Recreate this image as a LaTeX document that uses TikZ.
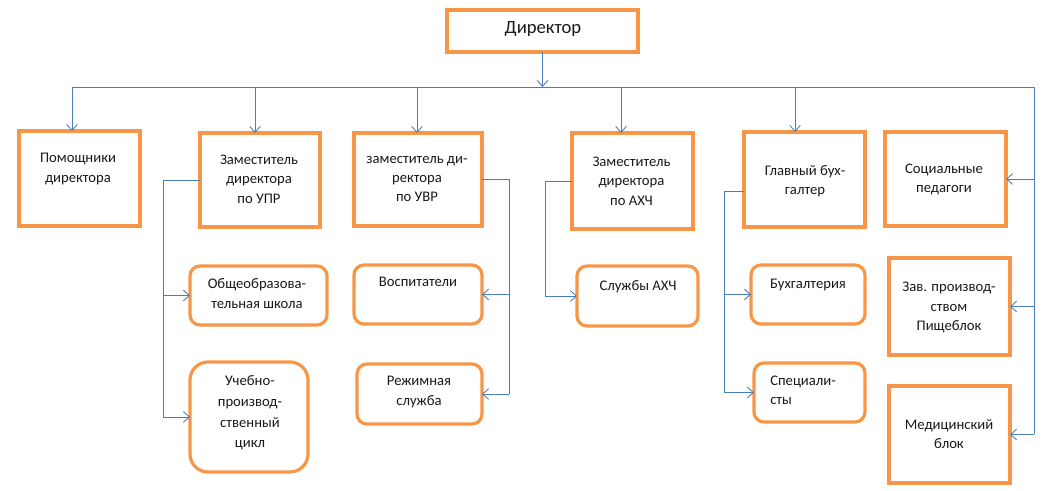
\documentclass[tikz,border=0pt]{standalone}
\usepackage{fontspec}
\setmainfont{Carlito}
\usetikzlibrary{arrows.meta}
\definecolor{boxorange}{HTML}{F79646}
\definecolor{connblue}{HTML}{4A7EBB}
\tikzset{
  sqbox/.style={draw=boxorange, line width=2.4pt, rectangle, inner sep=0pt, outer sep=0pt},
  rbox/.style={sqbox, rounded corners=7.5pt},
  wh/.style 2 args={minimum width=#1*0.75pt, minimum height=#2*0.75pt},
  lbl/.style={font=\fontsize{11}{14.5}\selectfont, align=center, inner sep=0pt, text=black!90},
  conn/.style={draw=connblue, line width=0.65pt},
  arr/.style={conn, -{Straight Barb[length=4.5pt,width=8pt]}}
}
\begin{document}
\begin{tikzpicture}[x=0.75pt,y=-0.75pt]
\useasboundingbox (0,0) rectangle (1053,491);
% boxes
\node[sqbox, wh={191}{42}] (dir) at (542.5,31) {};
\node[sqbox, wh={121}{95}] (pom) at (79.5,178.5) {};
\node[sqbox, wh={120}{94}] (upr) at (260,180) {};
\node[sqbox, wh={128}{93}] (uvr) at (418,179.5) {};
\node[sqbox, wh={121}{96}] (ahch) at (632.5,181) {};
\node[sqbox, wh={121}{95}] (gb) at (804.5,179.5) {};
\node[sqbox, wh={121}{94}] (soc) at (945.5,179) {};
\node[rbox, wh={137}{59}] (obsh) at (258.5,295.5) {};
\node[rbox, wh={128}{59}] (vosp) at (418,294.5) {};
\node[rbox, rounded corners=13.5pt, wh={118}{110}] (ucheb) at (249,417) {};
\node[rbox, wh={125}{60}] (rezh) at (419.5,394) {};
\node[rbox, wh={121}{60}] (sluzh) at (637.5,296) {};
\node[rbox, wh={114}{59}] (buhg) at (808,294.5) {};
\node[rbox, wh={111}{59}] (spec) at (809.5,392.5) {};
\node[sqbox, wh={121}{97}] (zav) at (949.5,306.5) {};
\node[sqbox, wh={121}{97}] (med) at (949.5,434.5) {};
% texts
\node[lbl, font=\fontsize{14}{17}\selectfont] (tdir) at (543,29) {Директор};
\node[lbl] (tpom) at (78,169) {Помощники\\директора};
\node[lbl] (tupr) at (259,179) {Заместитель\\директора\\по УПР};
\node[lbl] (tuvr) at (417,179) {заместитель ди-\\ректора\\по УВР};
\node[lbl] (tahch) at (631.5,181) {Заместитель\\директора\\по АХЧ};
\node[lbl] (tgb) at (805,181) {Главный бух-\\галтер};
\node[lbl] (tsoc) at (944,179.5) {Социальные\\педагоги};
\node[lbl] (tobsh) at (257,293.5) {Общеобразова-\\тельная школа};
\node[lbl] (tvosp) at (418,282) {Воспитатели};
\node[lbl, font=\fontsize{11}{15.5}\selectfont] (tucheb) at (250,413) {Учебно-\\производ-\\ственный\\цикл};
\node[lbl] (trezh) at (419,392) {Режимная\\служба};
\node[lbl] (tsluzh) at (638,287) {Службы АХЧ};
\node[lbl] (tbuhg) at (808,285) {Бухгалтерия};
\node[lbl, align=left, anchor=west] (tspec) at (770,390) {Специали-\\сты};
\node[lbl] (tzav) at (949,307.5) {Зав. производ-\\ством\\Пищеблок};
\node[lbl] (tmed) at (949,434) {Медицинский\\блок};
% bus
\coordinate (busL) at (72,87);
\coordinate (busR) at (1034,87);
\coordinate (b2) at (255,87);
\coordinate (b3) at (417,87);
\coordinate (b4) at (621,87);
\coordinate (b5) at (795,87);
\draw[arr] (dir.south) -- (dir.south |- busL);
\draw[conn] (busL) -- (busR) -- (busR |- med.east);
\draw[arr] (busL) -- (busL |- pom.north);
\draw[arr] (b2) -- (b2 |- upr.north);
\draw[arr] (b3) -- (b3 |- uvr.north);
\draw[arr] (b4) -- (b4 |- ahch.north);
\draw[arr] (b5) -- (b5 |- gb.north);
\draw[arr] (busR |- soc.east) -- (soc.east);
\draw[arr] (busR |- zav.east) -- (zav.east);
\draw[arr] (busR |- med.east) -- (med.east);
% UPR branch
\coordinate (xupr) at (163,0);
\draw[conn] (upr.west) -- (upr.west -| xupr) -- (xupr |- ucheb.west);
\draw[arr] (xupr |- obsh.west) -- (obsh.west);
\draw[arr] (xupr |- ucheb.west) -- (ucheb.west);
% UVR branch
\coordinate (xuvr) at (509,0);
\draw[conn] (uvr.east) -- (uvr.east -| xuvr) -- (xuvr |- rezh.east);
\draw[arr] (xuvr |- vosp.east) -- (vosp.east);
\draw[arr] (xuvr |- rezh.east) -- (rezh.east);
% AHCh branch
\coordinate (xahch) at (545,0);
\draw[conn] (ahch.west) -- (ahch.west -| xahch) -- (xahch |- sluzh.west);
\draw[arr] (xahch |- sluzh.west) -- (sluzh.west);
% GB branch
\coordinate (xgb) at (724,0);
\coordinate (gbw) at ([yshift=-9pt]gb.west);
\draw[conn] (gbw) -- (gbw -| xgb) -- (xgb |- spec.west);
\draw[arr] (xgb |- buhg.west) -- (buhg.west);
\draw[arr] (xgb |- spec.west) -- (spec.west);
\end{tikzpicture}
\end{document}
